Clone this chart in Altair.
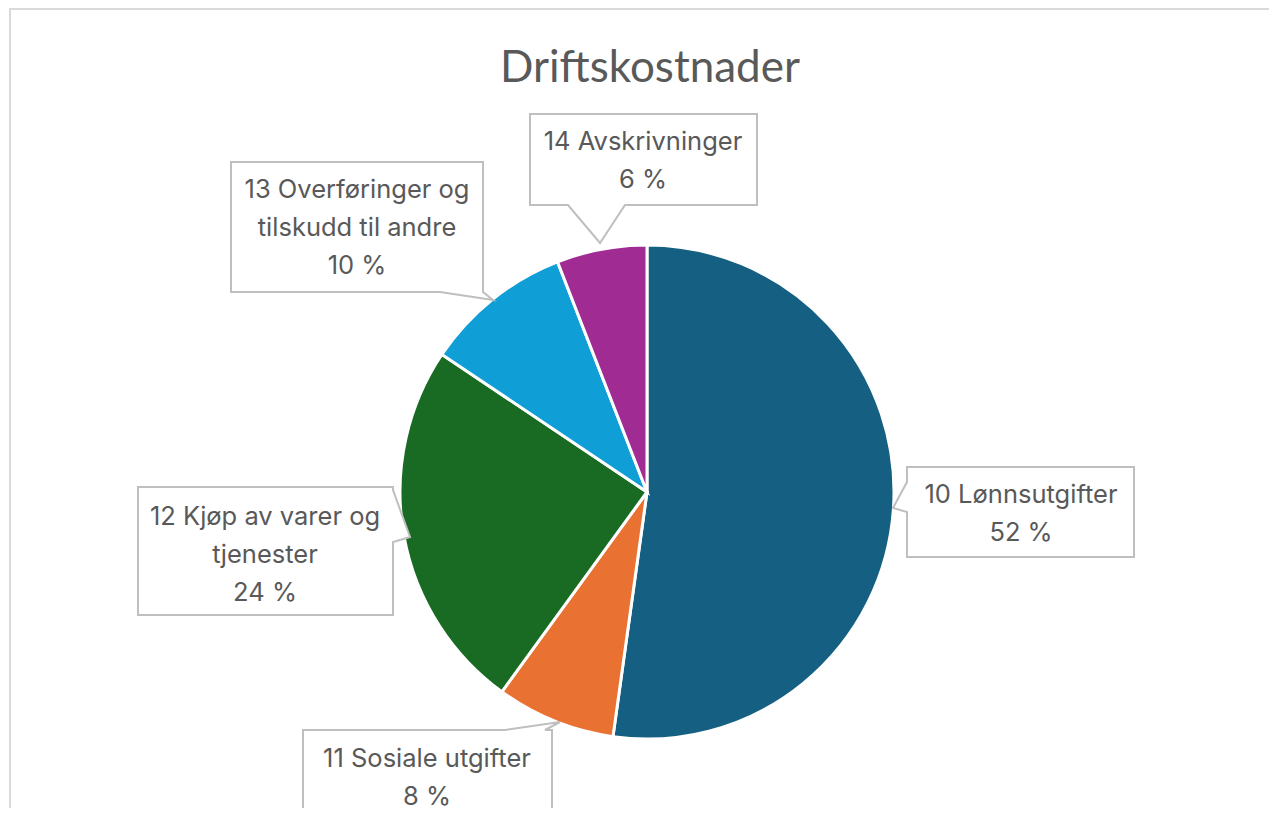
import altair as alt
import pandas as pd

# ---- data ----
categories = ["10 Lønnsutgifter", "11 Sosiale utgifter", "12 Kjøp av varer og tjenester",
              "13 Overføringer og tilskudd til andre", "14 Avskrivninger"]
label_names = ["10 Lønnsutgifter", "11 Sosiale utgifter", "12 Kjøp av varer og\ntjenester",
               "13 Overføringer og\ntilskudd til andre", "14 Avskrivninger"]
shares = [52.2, 7.8, 24.4, 9.7, 5.9]
colors = ["#156082", "#E97132", "#196B24", "#0F9ED5", "#A02B93"]
title_text = "Driftskostnader"

# ---- layout (pixel positions of callouts, plot coordinates) ----
label_x = [1013, 419, 257, 349, 635]
label_first_line_y = [487, 751, 509, 182, 134]
callout_paths = [
    "M899,459 L1126,459 L1126,549 L899,549 L899,504 L885,500 L899,474 Z",
    "M295,722 L497,722 L552,714 L537,722 L544,722 L544,900 L295,900 Z",
    "M130,479 L385,479 L385,482 L402,529 L385,534 L385,607 L130,607 Z",
    "M223,154 L475,154 L475,284 L485,292 L432,284 L223,284 Z",
    "M522,106 L749,106 L749,197 L617,197 L592,235 L560,197 L522,197 Z",
]
CX, CY, R = 639, 484, 247
TITLE_FONT = "Lato"
LABEL_FONT = "Inter"
GREY_TXT = "#595959"

pie_df = pd.DataFrame({"category": categories, "share": shares, "order": list(range(len(categories)))})
lab_df = pd.DataFrame({
    "label": [f"{n}\n{round(v)} %" for n, v in zip(label_names, shares)],
    "tx": label_x,
    "ty": label_first_line_y,
    "path": callout_paths,
})

frame = alt.Chart(pd.DataFrame({"a": [0]})).mark_rect(
    fillOpacity=0, stroke="#D9D9D9", strokeWidth=2, clip=True
).encode(x=alt.value(2), x2=alt.value(1400), y=alt.value(1), y2=alt.value(1000))

title = alt.Chart(pd.DataFrame({"t": [title_text]})).mark_text(
    font=TITLE_FONT, fontSize=44, color=GREY_TXT, baseline="alphabetic", align="center"
).encode(text="t:N", x=alt.value(642), y=alt.value(74))

pie = alt.Chart(pie_df).mark_arc(radius=R, stroke="white", strokeWidth=3).encode(
    theta=alt.Theta("share:Q", stack=True),
    order=alt.Order("order:Q", sort="ascending"),
    color=alt.Color("category:N", scale=alt.Scale(domain=categories, range=colors), legend=None),
    x=alt.value(CX), y=alt.value(CY),
)

callouts = alt.Chart(lab_df).mark_point(
    filled=True, fill="white", stroke="#BFBFBF", strokeWidth=2, opacity=1, size=4, clip=True
).encode(
    x=alt.value(0), y=alt.value(0),
    shape=alt.Shape("path:N", scale=None, legend=None),
)

texts = alt.Chart(lab_df).mark_text(
    font=LABEL_FONT, fontSize=25.5, color=GREY_TXT, lineBreak="\n", lineHeight=38,
    align="center", baseline="middle"
).encode(
    text="label:N",
    x=alt.X("tx:Q", scale=None, axis=None),
    y=alt.Y("ty:Q", scale=None, axis=None),
)

chart = alt.layer(frame, title, pie, callouts, texts).properties(
    width=1261, height=800, autosize="none", padding=0
).configure_view(stroke=None)

chart.save("out.html", embed_options={"renderer": "svg", "actions": False})
